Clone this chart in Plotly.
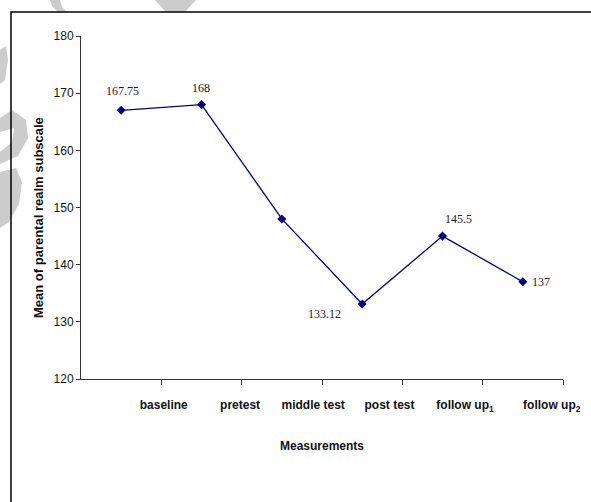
import plotly.graph_objects as go

# ---- data ----
categories = ["baseline", "pretest", "middle test", "post test",
              "follow up<sub>1</sub>", "follow up<sub>2</sub>"]
mean_values = [167.0, 168.0, 148.0, 133.12, 145.0, 137.0]
value_labels = ["167.75", "168", "", "133.12", "145.5", "137"]
y_ticks = [120, 130, 140, 150, 160, 170, 180]

# ---- geometry (page pixels; body margin removed in post_script) ----
W, H = 591, 502
L, R, T, B = 81, 563, 36, 379
ml, mr, mt, mb = L, W - R, T, H - B

def px(x):
    return (x - L) / (R - L)

def py(y):
    return (B - y) / (B - T)

navy = "#000080"
n = len(categories)
x_pos = [i + 0.5 for i in range(n)]
tick_pos = [i + 1 for i in range(n)]
# category text sits slightly off its tick mark, as in the original chart
label_shift = [0.03, -0.02, -0.11, -0.16, -0.22, -0.14]
label_pos = [t + s for t, s in zip(tick_pos, label_shift)]

fig = go.Figure()
fig.add_trace(go.Scatter(
    x=x_pos, y=mean_values, mode="lines+markers",
    line=dict(color=navy, width=1.3),
    marker=dict(symbol="diamond", size=7, color=navy),
    hoverinfo="skip", showlegend=False,
))
# invisible trace to activate the label axis
fig.add_trace(go.Scatter(x=[None], y=[None], xaxis="x2", yaxis="y",
                         hoverinfo="skip", showlegend=False))

# data labels (offsets in pixels)
label_offsets = [(1, 19), (-1, 17), (0, 0), (-38, -10), (16, 17), (18, 0)]
annotations = []
for xv, yv, txt, (dx, dy) in zip(x_pos, mean_values, value_labels, label_offsets):
    if not txt:
        continue
    annotations.append(dict(
        x=xv, y=yv, xref="x", yref="y", text=txt, showarrow=False,
        xanchor="center", yanchor="middle", xshift=dx, yshift=dy,
        font=dict(family="Liberation Serif, Times New Roman, serif", size=12, color="#222"),
    ))

# axis titles
annotations.append(dict(
    x=px(39), y=py(218), xref="paper", yref="paper",
    xanchor="center", yanchor="middle",
    text="Mean of parental realm subscale", textangle=-90, showarrow=False,
    font=dict(family="Liberation Sans, Arial, sans-serif", size=13, color="#111", weight="bold"),
))
annotations.append(dict(
    x=px(322), y=py(446), xref="paper", yref="paper",
    xanchor="center", yanchor="middle",
    text="Measurements", showarrow=False,
    font=dict(family="Liberation Sans, Arial, sans-serif", size=12, color="#111", weight="bold"),
))

# watermark fragments + outer frame
wm = "#cccccc"
def path_px(points):
    return "M " + " L ".join(f"{px(a):.5f},{py(b):.5f}" for a, b in points) + " Z"

def wm_shape(points):
    return dict(type="path", xref="paper", yref="paper", layer="below",
                line=dict(width=0), fillcolor=wm, path=path_px(points))

shapes = [
    wm_shape([(155, 0), (196, 0), (185, 12), (166, 12)]),
    wm_shape([(50, 0), (60, 0), (62, 7), (67, 12), (58, 12), (52, 6)]),
    wm_shape([(0, 50), (6, 46), (8, 60), (5, 80), (0, 84)]),
    wm_shape([(0, 118), (12, 110), (26, 120), (28, 138), (18, 156), (0, 164), (0, 152), (12, 142), (14, 128), (0, 132)]),
    wm_shape([(0, 172), (16, 168), (22, 182), (19, 204), (9, 222), (0, 228)]),
    dict(type="rect", xref="paper", yref="paper", layer="below",
         x0=px(11), y0=py(12), x1=px(610), y1=py(530),
         line=dict(color="black", width=1.5), fillcolor="rgba(0,0,0,0)"),
]

fig.update_layout(
    width=W, height=H,
    margin=dict(l=ml, r=mr, t=mt, b=mb, pad=0),
    paper_bgcolor="white", plot_bgcolor="white",
    showlegend=False,
    annotations=annotations,
    shapes=shapes,
    xaxis=dict(
        range=[0, n], tickmode="array", tickvals=tick_pos, showticklabels=False,
        showgrid=False, zeroline=False, showline=True, linecolor="#333", linewidth=1,
        ticks="outside", ticklen=5, tickcolor="#333", tickwidth=1, automargin=False,
        fixedrange=True,
    ),
    xaxis2=dict(
        overlaying="x", side="bottom", anchor="y",
        range=[0, n], tickmode="array", tickvals=label_pos, ticktext=categories,
        showgrid=False, zeroline=False, showline=False,
        ticks="outside", ticklen=5, tickcolor="rgba(0,0,0,0)",
        ticklabelstandoff=10, ticklabeloverflow="allow", automargin=False,
        tickfont=dict(family="Liberation Sans, Arial, sans-serif", size=12, color="#111", weight="bold"),
        fixedrange=True,
    ),
    yaxis=dict(
        range=[120, 180], tickmode="array", tickvals=y_ticks,
        showgrid=False, zeroline=False, showline=True, linecolor="#333", linewidth=1,
        ticks="outside", ticklen=4, tickcolor="#333", tickwidth=1, automargin=False,
        tickfont=dict(family="Liberation Sans, Arial, sans-serif", size=12, color="#111"),
        fixedrange=True,
    ),
)

fig.write_html(
    "out.html",
    config=dict(displayModeBar=False),
    post_script="document.body.style.margin='0';document.documentElement.style.overflow='hidden';document.body.style.overflow='hidden';",
)
